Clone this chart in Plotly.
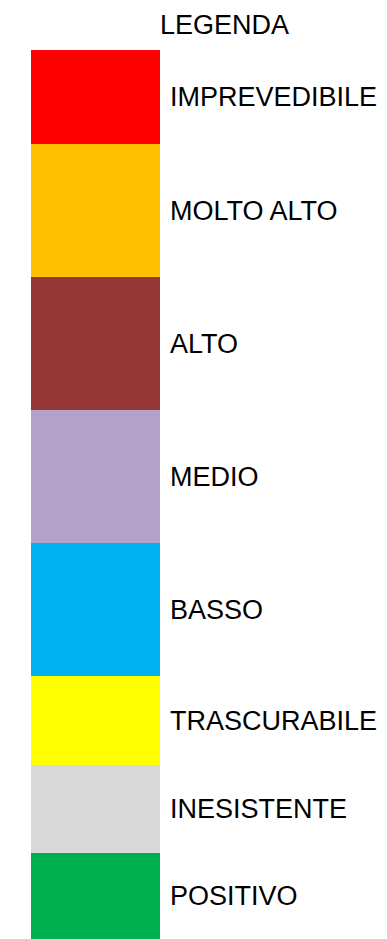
import plotly.graph_objects as go

# Legend categories (top to bottom) and their segment heights
categories = ["IMPREVEDIBILE", "MOLTO ALTO", "ALTO", "MEDIO", "BASSO",
              "TRASCURABILE", "INESISTENTE", "POSITIVO"]
heights = [94, 133, 133, 133, 133, 89, 88, 86]
colors = ["#FF0000", "#FFC000", "#953735", "#B3A2C7", "#00B0F0",
          "#FFFF00", "#D9D9D9", "#00B050"]
title_text = "LEGENDA"

W, H = 387, 939
PAGE_OFF = 8  # default body margin of the page
bar_x = 95.5
bar_w = 129

fig = go.Figure()
order = list(range(len(categories)))[::-1]
base = 0
annotations = []
font = dict(family="Liberation Sans, Arial, sans-serif", size=27, color="#000000")
for i in order:
    fig.add_trace(go.Bar(
        x=[bar_x], y=[heights[i]], base=[base], width=[bar_w],
        marker=dict(color=colors[i], line=dict(width=0)),
        name=categories[i], showlegend=False, hoverinfo="name",
    ))
    annotations.append(dict(
        x=168, y=base + heights[i] / 2, xref="x", yref="y",
        text=categories[i], showarrow=False, xanchor="left", yanchor="middle",
        font=font,
    ))
    base += heights[i]

annotations.append(dict(
    x=224, y=H - 24.5, xref="x", yref="y", text=title_text, showarrow=False,
    xanchor="center", yanchor="middle", font=font,
))

fig.update_layout(
    width=W - PAGE_OFF, height=H - PAGE_OFF, margin=dict(l=0, r=0, t=0, b=0),
    paper_bgcolor="white", plot_bgcolor="white",
    barmode="overlay", bargap=0,
    xaxis=dict(range=[PAGE_OFF, W], visible=False, fixedrange=True),
    yaxis=dict(range=[0, H - PAGE_OFF], visible=False, fixedrange=True),
    annotations=annotations,
)
fig.write_html("out.html", config=dict(displayModeBar=False))
